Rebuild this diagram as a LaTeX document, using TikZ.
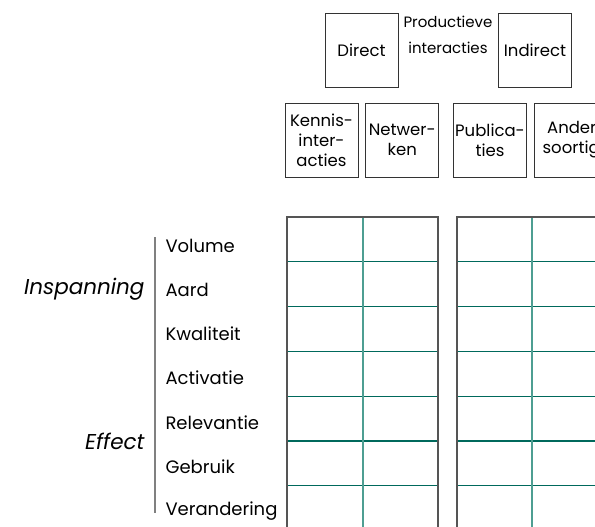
\documentclass[tikz,border=0pt]{standalone}
\usepackage{fontspec}
\setmainfont{Poppins}
\usetikzlibrary{positioning}
\definecolor{teal1}{HTML}{00695C}
\definecolor{teal2}{HTML}{4E9E92}
\definecolor{rim}{HTML}{555555}
\tikzset{
  kop/.style={draw=black!80, line width=0.8pt, minimum width=73pt, minimum height=74pt, inner sep=1pt, align=center, font=\fontsize{16.5}{20}\selectfont},
  rij/.style={anchor=west, font=\fontsize{18}{20}\selectfont},
  groep/.style={anchor=east, font=\fontsize{21.5}{23}\itshape},
}
\begin{document}
\begin{tikzpicture}[x=1pt,y=-1pt]
\useasboundingbox (0,0) rectangle (595,527);
\clip (0,0) rectangle (595,527);
% kolomkoppen
\node[kop] (direct) at (361.5,50) {Direct};
\node[kop] (indirect) at (535,50) {Indirect};
\node[font=\fontsize{15}{26}\selectfont, align=center] (prod) at (448,35) {Productieve\\interacties};
\node[kop] (kennis) at (321.5,140) {Kennis-\\inter-\\acties};
\node[kop, right=7pt of kennis] (netwerk) {Netwer-\\ken};
\node[kop] (public) at (490,140) {Publica-\\ties};
\node[kop, minimum width=84pt, right=7pt of public] (ander) {Ander-\\soortige};
% raster
\foreach \xa/\xm/\xb in {287/363/438, 457/532/620}{
  \foreach \k in {1,...,6}
    \draw[teal1, line width=1.3pt] (\xa,217+44.8*\k) -- (\xb,217+44.8*\k);
  \draw[teal2, line width=1.4pt] (\xm,217) -- (\xm,540);
  \draw[rim, line width=1.3pt] (\xa,540) -- (\xa,217) -- (\xb,217) -- (\xb,540);
}
% rijen
\foreach \t [count=\i from 0] in {Volume,Aard,Kwaliteit,Activatie,Relevantie,Gebruik,Verandering}
  \node[rij] (r\i) at (162,245.5+44.2*\i) {\t};
\draw[gray, line width=1.2pt] (155,237) coordinate (top) -- (155,513) coordinate (bot);
\node[groep] (insp) at (148,289) {Inspanning};
\node[groep] (eff) at (148,441) {Effect};
\end{tikzpicture}
\end{document}
